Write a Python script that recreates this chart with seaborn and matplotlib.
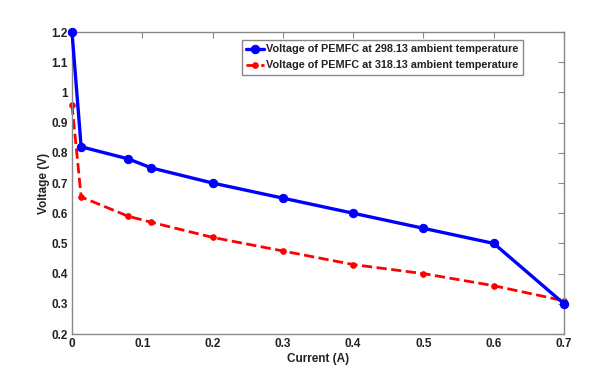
import numpy as np
import pandas as pd
import matplotlib
matplotlib.use("Agg")
import matplotlib.pyplot as plt
import seaborn as sns

# podaci ocitani sa slike
current = [0.0, 0.013, 0.08, 0.113, 0.2, 0.3, 0.4, 0.5, 0.6, 0.7]
v_298 = [1.2, 0.82, 0.78, 0.75, 0.70, 0.65, 0.60, 0.55, 0.50, 0.30]
v_318 = [0.96, 0.654, 0.59, 0.57, 0.52, 0.475, 0.43, 0.40, 0.36, 0.31]
labels = ["Voltage of PEMFC at 298.13 ambient temperature",
          "Voltage of PEMFC at 318.13 ambient temperature"]

sns.set_style("white")
plt.rcParams['font.family'] = ['Liberation Sans', 'DejaVu Sans']
plt.rcParams['font.weight'] = 'bold'

fig = plt.figure(figsize=(5.95, 3.77), dpi=100)
ax = fig.add_axes([0.121, 0.114, 0.827, 0.801])

sns.lineplot(x=current, y=v_298, ax=ax, color='#0000ff', marker='o', markersize=6,
             markeredgecolor='#0000ff', linewidth=2.4, sort=False, label=labels[0],
             clip_on=False, zorder=3)
sns.lineplot(x=current, y=v_318, ax=ax, color='#ff0000', marker='o', markersize=4,
             markeredgecolor='#ff0000', linewidth=2.0, linestyle='--', dashes=(2.8, 1.5),
             sort=False, label=labels[1], clip_on=False, zorder=2)

ax.set_xlim(0, 0.7)
ax.set_ylim(0.2, 1.2)
ax.set_xticks(np.arange(0, 0.71, 0.1))
ax.set_xticklabels(['0', '0.1', '0.2', '0.3', '0.4', '0.5', '0.6', '0.7'])
ax.set_yticks(np.arange(0.2, 1.21, 0.1))
ax.set_yticklabels(['0.2', '0.3', '0.4', '0.5', '0.6', '0.7', '0.8', '0.9', '1', '1.1', '1.2'])
ax.tick_params(direction='in', length=4, top=True, right=True, labelsize=8.5,
               color='#888888', labelcolor='#222222', pad=3)
for s in ax.spines.values():
    s.set_color('#888888')
    s.set_linewidth(1.0)

ax.set_xlabel("Current (A)", fontsize=8.5, fontweight='bold', color='#222222', labelpad=2)
ax.set_ylabel("Voltage (V)", fontsize=8.5, fontweight='bold', color='#222222', labelpad=1)

leg = ax.legend(loc='upper right', bbox_to_anchor=(0.917, 0.975), fontsize=7.8,
                handlelength=1.6, handletextpad=0.2, borderpad=0.45, labelspacing=0.55,
                fancybox=False, framealpha=1, edgecolor='#888888', borderaxespad=0)
for t in leg.get_texts():
    t.set_fontweight('bold')
    t.set_color('#222222')

fig.savefig("out.png", dpi=100)
